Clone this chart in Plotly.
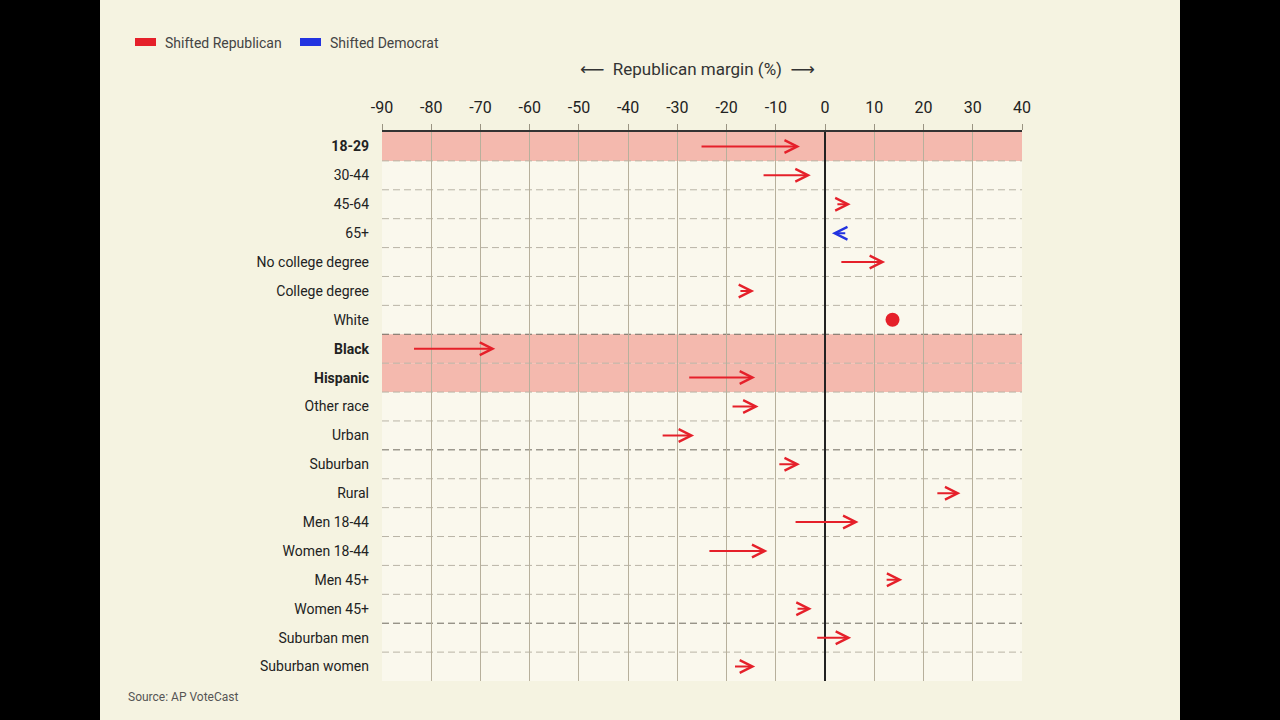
import plotly.graph_objects as go

# ---------------- data ----------------
categories = ["18-29", "30-44", "45-64", "65+", "No college degree", "College degree",
              "White", "Black", "Hispanic", "Other race", "Urban", "Suburban", "Rural",
              "Men 18-44", "Women 18-44", "Men 45+", "Women 45+", "Suburban men",
              "Suburban women"]
margin_2020 = [-25.4, -12.8, 2.2, 4.4, 3.0, -17.5, 13.7, -83.8, -27.9, -19.1, -33.3,
               -9.6, 22.5, -6.3, -23.8, 12.2, -5.9, -1.9, -18.6]
margin_2024 = [-5.1, -2.9, 5.2, 1.4, 12.2, -14.4, 13.7, -67.0, -14.2, -13.5, -26.6,
               -5.1, 27.5, 6.8, -11.7, 15.7, -2.7, 5.3, -14.2]
highlighted = ["18-29", "Black", "Hispanic"]
group_starts = ["Black", "Suburban", "Suburban men"]   # darker separator above these rows
x_ticks = [-90, -80, -70, -60, -50, -40, -30, -20, -10, 0, 10, 20, 30, 40]
legend_labels = ["Shifted Republican", "Shifted Democrat"]

RED = "#e5202a"
BLUE = "#2233e0"
CREAM = "#f5f3e1"
PLOT_BG = "#faf8ed"
PINK = "#f4b9ae"
FONT = "Roboto"

# ---------------- layout geometry (pixels) ----------------
W, H = 1280, 720
L, R, T, B = 382, 258, 132, 39
PW, PH = W - L - R, H - T - B


def px_x(px):
    return (px - L) / PW


def px_y(py):
    return (H - B - py) / PH


fig = go.Figure()

# no-change point (White)
dot_x = [e for s, e in zip(margin_2020, margin_2024) if abs(e - s) < 0.5]
dot_y = [c for c, s, e in zip(categories, margin_2020, margin_2024) if abs(e - s) < 0.5]
fig.add_trace(go.Scatter(x=dot_x, y=dot_y, mode="markers",
                         marker=dict(size=14, color=RED), showlegend=False,
                         hoverinfo="skip"))

# arrows
annotations = []
for c, s, e in zip(categories, margin_2020, margin_2024):
    if abs(e - s) < 0.5:
        continue
    col = RED if e > s else BLUE
    annotations.append(dict(
        x=e, y=c, xref="x", yref="y",
        ax=s, ay=0, axref="x", ayref="pixel",
        text="", showarrow=True, arrowhead=5, arrowsize=1.25,
        arrowwidth=2, arrowcolor=col, standoff=0,
    ))

shapes = []
shapes.append(dict(type="rect", xref="paper", yref="paper",
                   x0=px_x(100), x1=px_x(1180), y0=px_y(720), y1=px_y(0),
                   fillcolor=CREAM, line=dict(width=0), layer="below"))
shapes.append(dict(type="rect", xref="paper", yref="paper",
                   x0=0, x1=1, y0=0, y1=1,
                   fillcolor=PLOT_BG, line=dict(width=0), layer="below"))
for c in highlighted:
    i = categories.index(c)
    shapes.append(dict(type="rect", xref="paper", yref="y",
                       x0=0, x1=1, y0=i - 0.5, y1=i + 0.5,
                       fillcolor=PINK, line=dict(width=0), layer="below"))
for i in range(1, len(categories)):
    strong = categories[i] in group_starts
    shapes.append(dict(type="line", xref="paper", yref="y",
                       x0=0, x1=1, y0=i - 0.5, y1=i - 0.5,
                       line=dict(color="#6f6b60" if strong else "#b9b4a6",
                                 width=1, dash="7px,4px"),
                       layer="below"))

# legend (drawn as shapes + text)
leg_pos = [(135, 163), (300, 328)]
for (rx, tx), lab, col in zip(leg_pos, legend_labels, [RED, BLUE]):
    shapes.append(dict(type="rect", xref="paper", yref="paper",
                       x0=px_x(rx), x1=px_x(rx + 21), y0=px_y(46), y1=px_y(38),
                       fillcolor=col, line=dict(width=0)))
    annotations.append(dict(x=px_x(tx), y=px_y(43), xref="paper", yref="paper",
                            text=lab, showarrow=False, xanchor="left", yanchor="middle",
                            font=dict(family=FONT, size=14, color="#444444")))

annotations.append(dict(x=px_x(697), y=px_y(69), xref="paper", yref="paper",
                        text="<span style='font-family:DejaVu Sans'>\u27f5</span>  "
                             "Republican margin (%)  "
                             "<span style='font-family:DejaVu Sans'>\u27f6</span>",
                        showarrow=False, xanchor="center", yanchor="middle",
                        font=dict(family=FONT, size=17, color="#333333")))
annotations.append(dict(x=px_x(126), y=px_y(697), xref="paper", yref="paper",
                        text="Source: AP VoteCast", showarrow=False,
                        xanchor="left", yanchor="middle",
                        font=dict(family=FONT, size=12, color="#555555")))

tick_text = [f"<b>{c}</b>" if c in highlighted else c for c in categories]

fig.update_layout(
    width=W, height=H,
    margin=dict(l=L, r=R, t=T, b=B, pad=0),
    paper_bgcolor="#000000",
    plot_bgcolor="rgba(0,0,0,0)",
    showlegend=False,
    shapes=shapes,
    annotations=annotations,
    font=dict(family=FONT, color="#222222"),
    xaxis=dict(
        range=[-90, 40], side="top", tickvals=x_ticks,
        ticktext=[str(v) for v in x_ticks],
        showgrid=True, gridcolor="#b7b09c", gridwidth=1,
        zeroline=True, zerolinecolor="#222222", zerolinewidth=1.5,
        showline=True, linecolor="#333333", linewidth=1.5,
        ticks="outside", ticklen=6, tickcolor="#9a9482",
        ticklabelstandoff=5,
        tickfont=dict(family=FONT, size=16, color="#222222"),
        fixedrange=True,
    ),
    yaxis=dict(
        type="category", categoryorder="array", categoryarray=categories,
        range=[len(categories) - 0.5, -0.5],
        tickvals=categories, ticktext=tick_text,
        showgrid=False, zeroline=False, showline=False, ticks="",
        ticklabelstandoff=12,
        tickfont=dict(family=FONT, size=14, color="#222222"),
        fixedrange=True,
    ),
)

fig.write_html(
    "out.html",
    config={"displayModeBar": False},
    post_script="document.body.style.margin='0';document.body.style.background='#000';",
)
